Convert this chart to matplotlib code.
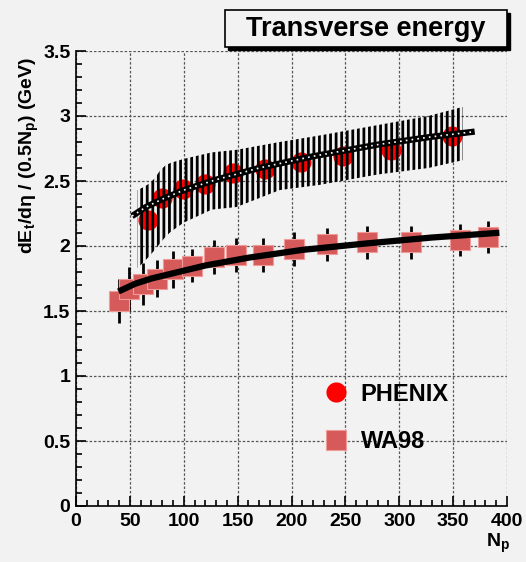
import matplotlib
matplotlib.use('Agg')
import matplotlib.pyplot as plt
from matplotlib.lines import Line2D
from matplotlib.patches import Rectangle
from matplotlib.ticker import MultipleLocator, FuncFormatter

plt.rcParams['font.family'] = ['Liberation Sans', 'DejaVu Sans']
plt.rcParams['font.weight'] = 'bold'
plt.rcParams['mathtext.fontset'] = 'custom'
plt.rcParams['mathtext.rm'] = 'Liberation Sans:bold'
plt.rcParams['mathtext.bf'] = 'Liberation Sans:bold'
plt.rcParams['mathtext.it'] = 'Liberation Sans:bold'
plt.rcParams['hatch.linewidth'] = 2.0
plt.rcParams['hatch.color'] = 'black'

# ---------------- data ----------------
phenix_np = [67, 80, 99, 119.5, 146, 175, 209, 248, 292, 349]
phenix_et = [2.20, 2.37, 2.44, 2.48, 2.565, 2.59, 2.645, 2.695, 2.74, 2.85]

band_np = [57, 62, 68, 73, 78, 83, 88, 100, 126, 149, 189, 226, 280, 327, 359]
band_hi = [2.43, 2.45, 2.48, 2.52, 2.58, 2.62, 2.64, 2.67, 2.72, 2.74, 2.80, 2.85, 2.93, 3.00, 3.07]
band_lo = [1.83, 1.87, 1.92, 1.97, 2.02, 2.07, 2.11, 2.18, 2.28, 2.30, 2.43, 2.47, 2.55, 2.60, 2.66]

phenix_fit_np = [52, 65, 80, 100, 130, 170, 220, 280, 330, 370]
phenix_fit_et = [2.23, 2.30, 2.36, 2.43, 2.51, 2.60, 2.69, 2.78, 2.84, 2.88]

wa98_np = [40, 49.5, 62, 75.5, 90, 108, 128, 148.5, 174, 202, 233, 270, 311, 356, 382]
wa98_et = [1.58, 1.667, 1.708, 1.75, 1.82, 1.85, 1.918, 1.93, 1.93, 1.977, 2.013, 2.028, 2.028, 2.046, 2.07]
wa98_err = [0.17, 0.17, 0.16, 0.14, 0.14, 0.13, 0.13, 0.13, 0.13, 0.13, 0.125, 0.125, 0.125, 0.125, 0.125]

wa98_fit_np = [42, 55, 70, 90, 120, 160, 210, 270, 330, 390]
wa98_fit_et = [1.66, 1.71, 1.75, 1.79, 1.85, 1.91, 1.97, 2.02, 2.065, 2.10]

x_ticks = [0, 50, 100, 150, 200, 250, 300, 350, 400]
y_ticks = [0, 0.5, 1, 1.5, 2, 2.5, 3, 3.5]

title_text = "Transverse energy"
legend_labels = ["PHENIX", "WA98"]

# ---------------- figure ----------------
BG = '#f2f2f2'
W, H = 526, 562
fig = plt.figure(figsize=(W / 100, H / 100), dpi=100, facecolor=BG)
ax = fig.add_axes([76 / W, 1 - 506 / H, (507 - 76) / W, (506 - 51) / H])
ax.set_facecolor(BG)

ax.set_xlim(0, 400)
ax.set_ylim(0, 3.5)
ax.set_xticks(x_ticks)
ax.set_yticks(y_ticks)
ax.xaxis.set_minor_locator(MultipleLocator(10))
ax.yaxis.set_minor_locator(MultipleLocator(0.1))
ax.yaxis.set_major_formatter(FuncFormatter(lambda v, p: '%g' % v))
ax.xaxis.set_major_formatter(FuncFormatter(lambda v, p: '%g' % v))
ax.tick_params(which='both', direction='in', top=False, right=False, width=1.2,
               labelsize=14, colors='black')
ax.tick_params(which='major', length=7)
ax.tick_params(which='minor', length=4.5)
ax.tick_params(axis='y', pad=4)
ax.tick_params(axis='x', pad=5)
for s in ['top', 'right']:
    ax.spines[s].set_visible(False)
for s in ['left', 'bottom']:
    ax.spines[s].set_linewidth(1.2)

ax.set_axisbelow(True)
ax.grid(True, which='major', color='#555555', linestyle=(0, (2, 1.5)), linewidth=0.9)

# PHENIX points
ax.plot(phenix_np, phenix_et, 'o', color='#ff0000', markersize=14.5,
        markeredgewidth=0, zorder=2)
# PHENIX systematic band (vertical hatch)
ax.fill_between(band_np, band_lo, band_hi, facecolor='none', edgecolor='black',
                hatch='|||', linewidth=0, zorder=3)
# PHENIX fit
ax.plot(phenix_fit_np, phenix_fit_et, '-', color='black', lw=4.5, zorder=4,
        solid_capstyle='butt')
ax.plot(phenix_fit_np, phenix_fit_et, color='white', lw=1.2, linestyle=(0, (1, 2.5)),
        zorder=5)

# WA98 points
ax.errorbar(wa98_np, wa98_et, yerr=wa98_err, fmt='none', ecolor='black',
            elinewidth=2, capsize=0, zorder=2)
ax.plot(wa98_np, wa98_et, 's', color='#d65a5a', markersize=14,
        markeredgecolor='#f09a9a', markeredgewidth=0.8, zorder=3)
ax.plot(wa98_fit_np, wa98_fit_et, '-', color='black', lw=4.5, zorder=4)

# legend
handles = [
    Line2D([], [], linestyle='none', marker='o', color='#ff0000', markersize=14.5,
           markeredgewidth=0),
    Line2D([], [], linestyle='none', marker='s', color='#d65a5a', markersize=14,
           markeredgecolor='#f09a9a', markeredgewidth=0.8),
]
leg = ax.legend(handles, legend_labels, loc='center left',
                bbox_to_anchor=((324 - 76) / 431, (506 - 418) / 455),
                frameon=False, fontsize=17, handlelength=1.0, handletextpad=0.55,
                labelspacing=1.05, borderpad=0, borderaxespad=0)

# axis labels
fig.text(29 / W, 1 - 254 / H,
         r'dE$_{\mathbf{t}}$/d$\mathbf{\eta}$ / (0.5N$_{\mathbf{p}}$) (GeV)',
         rotation=90, ha='center', va='bottom', fontsize=14, fontweight='bold')
fig.text(510 / W, 1 - 543 / H, r'N$_{\mathbf{p}}$', ha='right', va='center',
         fontsize=14, fontweight='bold')

# title box
shadow = Rectangle((228 / W, 1 - 50 / H), (507 - 225) / W, 37 / H,
                   transform=fig.transFigure, facecolor='black', edgecolor='black',
                   zorder=5)
box = Rectangle((225 / W, 1 - 47 / H), (507 - 225) / W, 37 / H,
                transform=fig.transFigure, facecolor=BG, edgecolor='black',
                linewidth=1.2, zorder=6)
fig.patches.extend([shadow, box])
fig.text(366 / W, 1 - 29 / H, title_text, ha='center', va='center', fontsize=19.5,
         fontweight='bold', zorder=7)

fig.savefig('out.png', dpi=100, facecolor=BG)
